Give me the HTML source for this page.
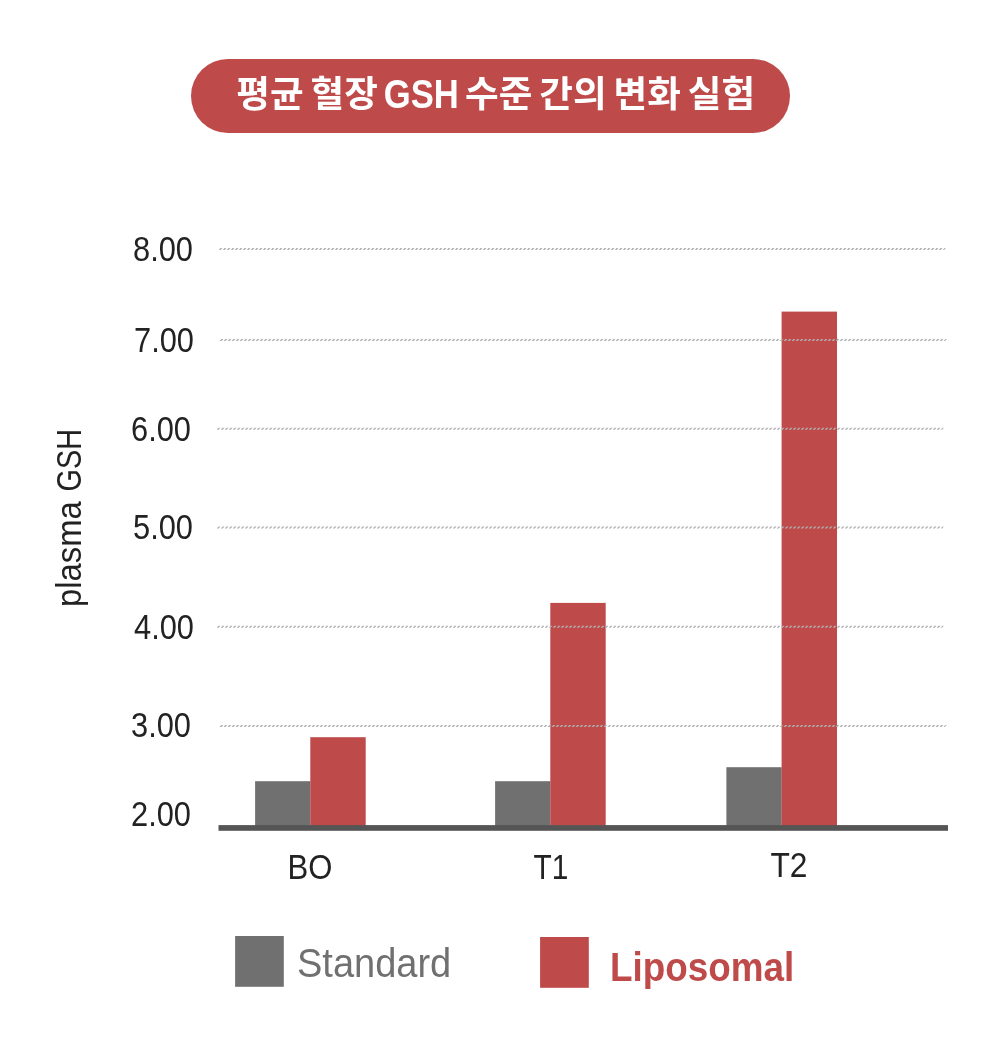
<!DOCTYPE html>
<html lang="ko">
<head>
<meta charset="utf-8">
<title>평균 혈장 GSH 수준 간의 변화 실험</title>
<style>
  html, body { margin: 0; padding: 0; background: #ffffff; }
  body { width: 1000px; height: 1044px; position: relative; overflow: hidden;
         font-family: "Liberation Sans", "Noto Sans CJK KR", sans-serif; color: #222222; }
  .abs { position: absolute; white-space: nowrap; line-height: 1; }
  #pill { left: 191px; top: 59px; width: 599px; height: 74px; border-radius: 37px; background: #be4a4a; }
  #title { left: 191px; top: 58px; transform: translateY(0.3px); width: 599px; height: 74px; line-height: 74px; text-align: center;
           color: #ffffff; font-weight: 700; font-size: 36.6px; word-spacing: -3.2px; padding-left: 10.4px; box-sizing: border-box; }
  #title .lat { display: inline-block; font-size: 40px; line-height: 1; transform: scaleX(0.865); transform-origin: 50% 50%; margin: 0 -6.75px; position: relative; left: -0.3px; top: 1.2px; }
  .ytick { left: 100px; width: 93px; text-align: right; font-size: 35px; transform: scaleX(0.88); transform-origin: 100% 50%; }
  .xl { font-size: 34.5px; text-align: center; width: 120px; transform: scaleX(0.9); }
  #ylabel { font-size: 35.5px; left: 0; top: 0; }
  .yl { left: 0; top: 0; transform-origin: 0 0; }
  .leg { font-size: 39px; transform-origin: 0 50%; }
  svg { position: absolute; left: 0; top: 0; }
</style>
</head>
<body>
<svg width="1000" height="1044" viewBox="0 0 1000 1044">
  <!-- bars -->
  <g fill="#707070">
    <rect x="255.1" y="781.2" width="55.3" height="45"/>
    <rect x="495.1" y="781.2" width="55.3" height="45"/>
    <rect x="726.4" y="767.2" width="55.3" height="59"/>
    <rect x="235.1" y="936" width="48.7" height="50.8"/>
  </g>
  <g fill="#be4a4a">
    <rect x="310.3" y="737.2" width="55.4" height="89"/>
    <rect x="550.3" y="602.9" width="55.4" height="223"/>
    <rect x="781.6" y="311.6" width="55.4" height="515"/>
    <rect x="540.1" y="937" width="48.7" height="50.8"/>
  </g>
  <!-- grid lines -->
  <g stroke="#b0b0b0" stroke-width="2" stroke-dasharray="2 2" fill="none">
    <line x1="0" y1="0" x2="725.4" y2="0" transform="translate(219.6,248.9) skewX(-40)"/>
    <line x1="0" y1="0" x2="725.4" y2="0" transform="translate(220.5,339.9) skewX(-40)"/>
    <line x1="0" y1="0" x2="725.4" y2="0" transform="translate(217.6,428.8) skewX(-40)"/>
    <line x1="0" y1="0" x2="725.4" y2="0" transform="translate(217.6,527.4) skewX(-40)"/>
    <line x1="0" y1="0" x2="725.4" y2="0" transform="translate(217.6,626.8) skewX(-40)"/>
    <line x1="0" y1="0" x2="725.4" y2="0" transform="translate(220.4,725.9) skewX(-40)"/>
  </g>
  <!-- axis -->
  <rect x="218.5" y="825.1" width="729.5" height="5.7" fill="#555555"/>
</svg>

<div id="pill" class="abs"></div>
<div id="title" class="abs">평균 혈장 <span class="lat">GSH</span> 수준 간의 변화 실험</div>

<div class="abs ytick" style="top:231.1px; left:100.2px">8.00</div>
<div class="abs ytick" style="top:322.1px; left:100.7px">7.00</div>
<div class="abs ytick" style="top:411.1px; left:98.2px">6.00</div>
<div class="abs ytick" style="top:509.2px; left:100.2px">5.00</div>
<div class="abs ytick" style="top:609.2px; left:100.7px">4.00</div>
<div class="abs ytick" style="top:707px; left:97.9px">3.00</div>
<div class="abs ytick" style="top:796.1px; left:98.1px">2.00</div>

<div class="abs xl" style="left:250px; top:850px">BO</div>
<div class="abs xl" style="left:490.6px; top:850px; transform:scaleX(0.865)">T1</div>
<div class="abs xl" style="left:729.4px; top:848px; transform:scaleX(0.92)">T2</div>

<div id="ylabel" class="abs"><span class="abs yl" style="transform: translate(52.4px, 607px) rotate(-90deg) scaleX(0.924);">plasma </span><span class="abs yl" style="transform: translate(52.4px, 491.4px) rotate(-90deg) scaleX(0.812);">GSH</span></div>

<div class="abs leg" style="left:297.2px; top:943px; font-size:41px; color:#707070; transform: scaleX(0.927)">Standard</div>
<div class="abs leg" style="left:610.2px; top:946.5px; color:#be4a4a; font-weight:700; font-size:40.5px; transform: scaleX(0.910)">Liposomal</div>
</body>
</html>
